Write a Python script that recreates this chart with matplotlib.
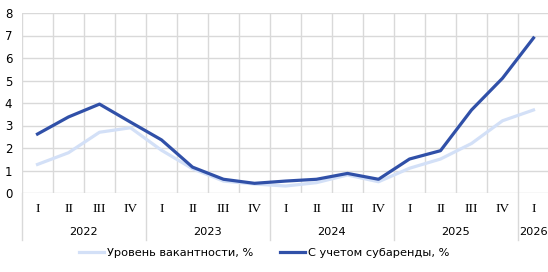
import numpy as np
import matplotlib
matplotlib.use('Agg')
import matplotlib.pyplot as plt

quarters = ['I', 'II', 'III', 'IV'] * 4 + ['I']
years = ['2022', '2023', '2024', '2025', '2026']
year_len = [4, 4, 4, 4, 1]

vacancy = [1.27, 1.79, 2.7, 2.9, 1.9, 1.08, 0.53, 0.4, 0.31, 0.46, 0.8, 0.5, 1.1, 1.51, 2.2, 3.21, 3.69]
sublease = [2.62, 3.38, 3.95, 3.15, 2.36, 1.15, 0.61, 0.43, 0.53, 0.61, 0.87, 0.61, 1.51, 1.88, 3.69, 5.1, 6.89]

dark = '#3050a8'
light = '#d3e0f7'
grid = '#d9d9d9'

plt.rcParams['font.family'] = ['DejaVu Sans']

fig = plt.figure(figsize=(5.48, 2.72), dpi=100)
ax = fig.add_axes([22/548, 79/272, 527/548, 180/272])

n = len(quarters)
x = np.arange(n) + 0.5
ax.plot(x, vacancy, color=light, linewidth=2.3, label='Уровень вакантности, %', zorder=3)
ax.plot(x, sublease, color=dark, linewidth=2.3, label='С учетом субаренды, %', zorder=4)

ax.set_xlim(0, n)
ax.set_ylim(0, 8)
ax.set_yticks(range(0, 9))
ax.tick_params(axis='y', length=0, labelsize=8.5, pad=7)
ax.set_xticks([])
for s in ax.spines.values():
    s.set_visible(False)

# сетка
for v in range(0, 9):
    ax.axhline(v, color=grid, linewidth=1, zorder=1)
for b in range(0, n):
    ax.plot([b, b], [0, 8], color=grid, linewidth=1, zorder=1)

# подписи кварталов и лет
for i, q in enumerate(quarters):
    ax.text(i + 0.5, -0.71, q, ha='center', va='center', fontsize=9.5,
            family='Liberation Serif', clip_on=False)
pos = 0
for y, l in zip(years, year_len):
    ax.text(pos + l / 2, -1.73, y, ha='center', va='center', fontsize=8.2, clip_on=False)
    ax.plot([pos, pos], [0, -2.09], color=grid, linewidth=1, clip_on=False, zorder=1)
    pos += l

fig.legend(loc='center', bbox_to_anchor=(0.482, 1 - 253/272), ncol=2, frameon=False,
           fontsize=8.2, handlelength=2.2, columnspacing=2.3, handletextpad=0.25)

fig.savefig('out.png', dpi=100)
